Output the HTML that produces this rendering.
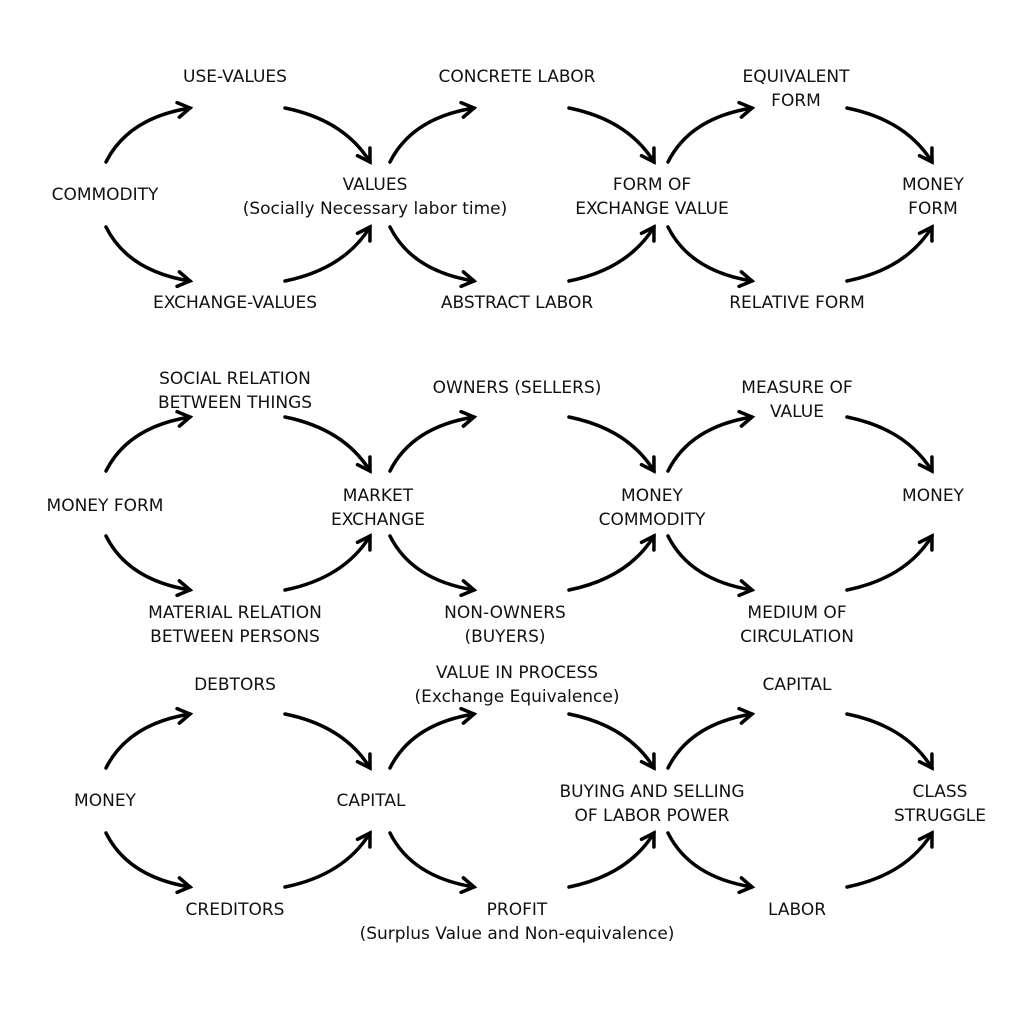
<!DOCTYPE html>
<html><head><meta charset="utf-8"><style>
html,body{margin:0;padding:0;background:#fff;}
#c{position:relative;width:1024px;height:1013px;overflow:hidden;}
.t{position:absolute;font-family:"DejaVu Sans","Liberation Sans",sans-serif;font-size:17px;color:#111;text-align:center;line-height:24px;white-space:nowrap;transform:translateX(-50%);}
svg{position:absolute;left:0;top:0;}
</style></head><body><div id="c">
<svg id="s" width="1024" height="1013"></svg>
<div class="t" style="left:235px;top:65px">USE-VALUES</div>
<div class="t" style="left:517px;top:65px">CONCRETE LABOR</div>
<div class="t" style="left:796px;top:65px">EQUIVALENT<br>FORM</div>
<div class="t" style="left:105px;top:183px">COMMODITY</div>
<div class="t" style="left:375px;top:173px">VALUES<br>(Socially Necessary labor time)</div>
<div class="t" style="left:652px;top:173px">FORM OF<br>EXCHANGE VALUE</div>
<div class="t" style="left:933px;top:173px">MONEY<br>FORM</div>
<div class="t" style="left:235px;top:291px">EXCHANGE-VALUES</div>
<div class="t" style="left:517px;top:291px">ABSTRACT LABOR</div>
<div class="t" style="left:797px;top:291px">RELATIVE FORM</div>

<div class="t" style="left:235px;top:367px">SOCIAL RELATION<br>BETWEEN THINGS</div>
<div class="t" style="left:517px;top:376px">OWNERS (SELLERS)</div>
<div class="t" style="left:797px;top:376px">MEASURE OF<br>VALUE</div>
<div class="t" style="left:105px;top:494px">MONEY FORM</div>
<div class="t" style="left:378px;top:484px">MARKET<br>EXCHANGE</div>
<div class="t" style="left:652px;top:484px">MONEY<br>COMMODITY</div>
<div class="t" style="left:933px;top:484px">MONEY</div>
<div class="t" style="left:235px;top:601px">MATERIAL RELATION<br>BETWEEN PERSONS</div>
<div class="t" style="left:505px;top:601px">NON-OWNERS<br>(BUYERS)</div>
<div class="t" style="left:797px;top:601px">MEDIUM OF<br>CIRCULATION</div>

<div class="t" style="left:517px;top:661px">VALUE IN PROCESS<br>(Exchange Equivalence)</div>
<div class="t" style="left:235px;top:673px">DEBTORS</div>
<div class="t" style="left:797px;top:673px">CAPITAL</div>
<div class="t" style="left:105px;top:789px">MONEY</div>
<div class="t" style="left:371px;top:789px">CAPITAL</div>
<div class="t" style="left:652px;top:780px">BUYING AND SELLING<br>OF LABOR POWER</div>
<div class="t" style="left:940px;top:780px">CLASS<br>STRUGGLE</div>
<div class="t" style="left:235px;top:898px">CREDITORS</div>
<div class="t" style="left:517px;top:898px">PROFIT<br>(Surplus Value and Non-equivalence)</div>
<div class="t" style="left:797px;top:898px">LABOR</div>
</div>
<script>
var s=document.getElementById('s'),h='';
function arrow(x1,y1,cx,cy,x2,y2){
 h+='<path d="M'+x1+' '+y1+' Q'+cx+' '+cy+' '+x2+' '+y2+'" fill="none" stroke="#000" stroke-width="3.5" stroke-linecap="round"/>';
 var dx=x2-cx,dy=y2-cy,L=Math.hypot(dx,dy);dx/=L;dy/=L;
 var a=0.55,len=14;
 function r(t){return [x2-len*(dx*Math.cos(t)-dy*Math.sin(t)),y2-len*(dx*Math.sin(t)+dy*Math.cos(t))];}
 var p=r(a),q=r(-a);
 h+='<polyline points="'+p[0]+','+p[1]+' '+x2+','+y2+' '+q[0]+','+q[1]+'" fill="none" stroke="#000" stroke-width="3.5" stroke-linecap="round" stroke-linejoin="miter"/>';
}
var cols=[106,390,668],rows=[108,417,714];
rows.forEach(function(T){cols.forEach(function(x){
 arrow(x,T+54,x+22,T+10,x+84,T);
 arrow(x+179,T,x+238,T+12,x+264,T+54);
 arrow(x,T+119,x+22,T+163,x+84,T+173);
 arrow(x+179,T+173,x+238,T+161,x+264,T+119);
});});
s.innerHTML=h;
</script>
</body></html>
